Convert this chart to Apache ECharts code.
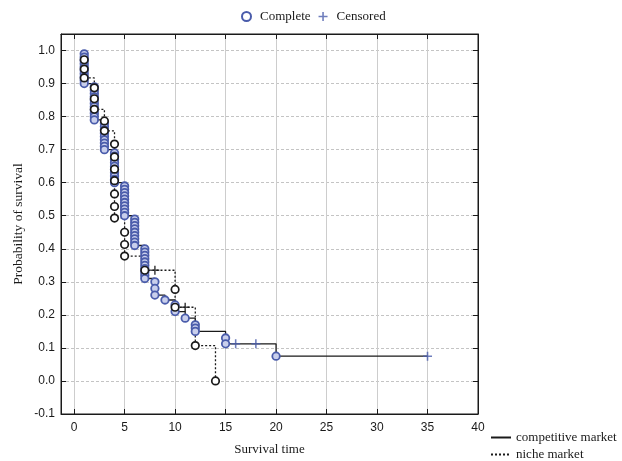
<!DOCTYPE html>
<html>
<head>
<meta charset="utf-8">
<script src="https://cdn.jsdelivr.net/npm/echarts@6/dist/echarts.min.js"></script>
<style>
html,body{margin:0;padding:0;background:#fff;}
#chart{width:622px;height:461px;}
</style>
</head>
<body>
<div id="chart"></div>
<script>
// Tick labels
const xTicks = [0, 5, 10, 15, 20, 25, 30, 35, 40];
const yTicks = [-0.1, 0.0, 0.1, 0.2, 0.3, 0.4, 0.5, 0.6, 0.7, 0.8, 0.9, 1.0];

// Competitive market: Kaplan-Meier step curve (time, survival)
const compStepTime = [1, 1, 2, 3, 4, 5, 6, 7, 8, 9, 10, 11, 12, 15, 20, 35];
const compStepSurv = [1.0, 0.90, 0.79, 0.70, 0.60, 0.50, 0.41, 0.31, 0.26, 0.245, 0.21, 0.19, 0.15, 0.1125, 0.075, 0.075];
// Competitive market: complete observations (time -> survival values)
const compCompleteTime = [1, 2, 3, 4, 5, 6, 7, 8, 9, 10, 11, 12, 15, 20];
const compCompleteSurv = [
  [0.99, 0.98, 0.97, 0.96, 0.95, 0.94, 0.93, 0.92, 0.91, 0.90],
  [0.89, 0.88, 0.87, 0.86, 0.85, 0.84, 0.83, 0.82, 0.81, 0.80, 0.79],
  [0.78, 0.77, 0.76, 0.75, 0.74, 0.73, 0.72, 0.71, 0.70],
  [0.69, 0.68, 0.67, 0.66, 0.65, 0.64, 0.63, 0.62, 0.61, 0.60],
  [0.59, 0.58, 0.57, 0.56, 0.55, 0.54, 0.53, 0.52, 0.51, 0.50],
  [0.49, 0.48, 0.47, 0.46, 0.45, 0.44, 0.43, 0.42, 0.41],
  [0.40, 0.39, 0.38, 0.37, 0.36, 0.35, 0.34, 0.33, 0.32, 0.31],
  [0.30, 0.28, 0.26],
  [0.245],
  [0.23, 0.21],
  [0.19],
  [0.17, 0.16, 0.15],
  [0.13, 0.1125],
  [0.075]
];
// Competitive market: censored observations
const compCensTime = [16, 18, 35];
const compCensSurv = [0.1125, 0.1125, 0.075];

// Niche market: Kaplan-Meier step curve
const nicheStepTime = [1, 1, 2, 3, 4, 5, 7, 10, 12, 14];
const nicheStepSurv = [1.0, 0.917, 0.822, 0.757, 0.493, 0.378, 0.335, 0.223, 0.107, 0.0];
// Niche market: complete observations
const nicheCompleteTime = [1, 2, 3, 4, 5, 7, 10, 12, 14];
const nicheCompleteSurv = [
  [0.972, 0.944, 0.917],
  [0.887, 0.854, 0.822],
  [0.787, 0.757],
  [0.717, 0.678, 0.641, 0.606, 0.566, 0.528, 0.493],
  [0.450, 0.413, 0.378],
  [0.335],
  [0.277, 0.223],
  [0.107],
  [0.0]
];
// Niche market: censored observations
const nicheCensTime = [8, 11];
const nicheCensSurv = [0.335, 0.223];

const BLUE = '#4a5cab';
const INK = '#1a1a1a';
const PLUS = 'path://M3.3,0H4.7V3.3H8V4.7H4.7V8H3.3V4.7H0V3.3H3.3Z';

function zip(a, b) { return a.map((v, i) => [v, b[i]]); }
function expand(times, lists) {
  const out = [];
  times.forEach((t, i) => lists[i].forEach(s => out.push([t, s])));
  return out;
}

const chart = echarts.init(document.getElementById('chart'), null, {renderer: 'canvas'});
const sans = 'Liberation Sans, Arial, sans-serif';
const serif = 'Liberation Serif, Times New Roman, serif';

const option = {
  animation: false,
  backgroundColor: '#fff',
  grid: {left: 61, top: 34, right: 144, bottom: 41, show: true, borderColor: INK, borderWidth: 1},
  legend: [
    {
      data: [
        {name: 'Complete', icon: 'circle', itemStyle: {color: '#fff', borderColor: BLUE, borderWidth: 2}},
        {name: 'Censored', icon: PLUS, itemStyle: {color: BLUE}}
      ],
      left: 241, top: 10, padding: 0, itemWidth: 17, itemHeight: 9, itemGap: 8,
      textStyle: {fontFamily: serif, fontSize: 13, color: INK},
      selectedMode: false
    },
    {
      data: ['competitive market', 'niche market'],
      orient: 'vertical', left: 490, top: 431, padding: 0, itemWidth: 20, itemHeight: 10, itemGap: 4,
      itemStyle: {opacity: 0},
      textStyle: {fontFamily: serif, fontSize: 13, color: INK},
      selectedMode: false
    }
  ],
  xAxis: [
    {
      type: 'value', min: -1.3, max: 40, position: 'bottom',
      name: 'Survival time', nameLocation: 'middle', nameGap: 29, nameMoveOverlap: false,
      nameTextStyle: {fontFamily: serif, fontSize: 13, color: INK},
      axisLine: {show: true, onZero: false, lineStyle: {color: INK}},
      axisTick: {show: true, inside: true, length: 5, customValues: xTicks, lineStyle: {color: INK}},
      axisLabel: {customValues: xTicks, margin: 8, fontFamily: sans, fontSize: 12, color: INK},
      splitLine: {show: true, lineStyle: {color: '#cdcdcd', width: 1, type: 'solid'}}
    },
    {
      type: 'value', min: -1.3, max: 40, position: 'top',
      axisLine: {show: true, onZero: false, lineStyle: {color: INK}},
      axisTick: {show: true, inside: true, length: 5, customValues: xTicks, lineStyle: {color: INK}},
      axisLabel: {show: false},
      splitLine: {show: false}
    }
  ],
  yAxis: [
    {
      type: 'value', min: -0.1, max: 1.05, position: 'left',
      name: 'Probability of survival', nameLocation: 'middle', nameGap: 36, nameMoveOverlap: false,
      nameTextStyle: {fontFamily: serif, fontSize: 13.5, color: INK},
      axisLine: {show: true, onZero: false, lineStyle: {color: INK}},
      axisTick: {show: true, inside: true, length: 5, customValues: yTicks, lineStyle: {color: INK}},
      axisLabel: {customValues: yTicks, margin: 6, fontFamily: sans, fontSize: 12, color: INK,
        formatter: v => v.toFixed(1)},
      splitLine: {show: true, lineStyle: {color: '#c4c4c4', width: 1, type: [3, 2]}}
    },
    {
      type: 'value', min: -0.1, max: 1.05, position: 'right',
      axisLine: {show: true, onZero: false, lineStyle: {color: INK}},
      axisTick: {show: true, inside: true, length: 5, customValues: yTicks, lineStyle: {color: INK}},
      axisLabel: {show: false},
      splitLine: {show: false}
    }
  ],
  series: [
    {
      name: 'competitive market', type: 'line', step: 'end', symbol: 'none',
      data: zip(compStepTime, compStepSurv),
      lineStyle: {color: INK, width: 1.3, type: 'solid'}, itemStyle: {color: INK}, z: 2
    },
    {
      name: 'niche market', type: 'line', step: 'end', symbol: 'none',
      data: zip(nicheStepTime, nicheStepSurv),
      lineStyle: {color: INK, width: 1.3, type: [2, 2]}, itemStyle: {color: INK}, z: 2
    },
    {
      name: 'Complete', type: 'scatter', symbol: 'circle', symbolSize: 7.5,
      data: expand(compCompleteTime, compCompleteSurv),
      itemStyle: {color: '#c9cfec', borderColor: BLUE, borderWidth: 1.8, opacity: 1}, z: 3
    },
    {
      name: 'Censored', type: 'scatter', symbol: PLUS, symbolSize: 9,
      data: zip(compCensTime, compCensSurv),
      itemStyle: {color: BLUE}, z: 3
    },
    {
      name: 'niche complete', type: 'scatter', symbol: 'circle', symbolSize: 7.5,
      data: expand(nicheCompleteTime, nicheCompleteSurv),
      itemStyle: {color: '#fff', borderColor: INK, borderWidth: 1.7, opacity: 1}, z: 4
    },
    {
      name: 'niche censored', type: 'scatter', symbol: PLUS, symbolSize: 9,
      data: zip(nicheCensTime, nicheCensSurv),
      itemStyle: {color: INK}, z: 4
    }
  ]
};
chart.setOption(option);
</script>
</body>
</html>
